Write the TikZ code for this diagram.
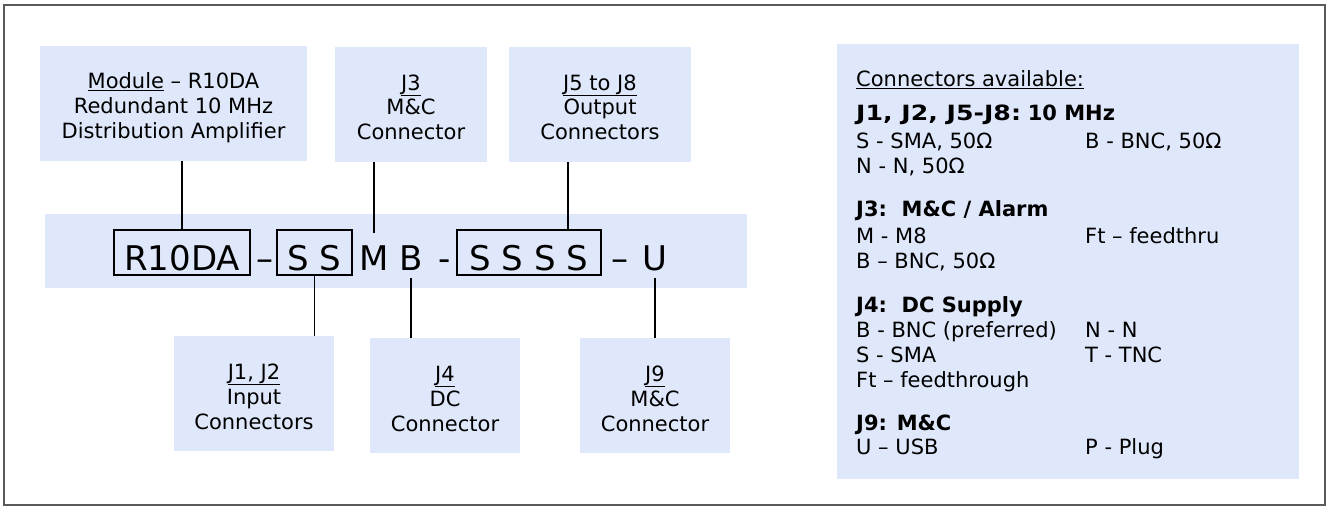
\documentclass[tikz,border=0pt]{standalone}
\usepackage{fontspec}
\setmainfont{DejaVu Sans}
\usepackage{graphicx}
\usepackage{tikz}

\definecolor{paneblue}{HTML}{DFE7FA}
\definecolor{framegray}{HTML}{5A5A5A}

\tikzset{
  pane/.style={fill=paneblue, inner sep=0pt, align=center, text height=71pt, text depth=0pt,
    font=\fontsize{21}{25}\selectfont},
  codebox/.style={draw, line width=1.5pt, inner sep=0pt, minimum height=45pt,
    text height=36pt, text depth=0pt, font=\fontsize{34}{40}\selectfont},
  codechar/.style={anchor=base, inner sep=0pt, text height=37pt, text depth=8pt,
    font=\fontsize{34}{40}\selectfont},
  info/.style={anchor=base west, inner sep=0pt, font=\fontsize{21}{25}\selectfont},
  wire/.style={line width=1.5pt},
}

\begin{document}
\begin{tikzpicture}[x=1pt, y=-1pt]
	\useasboundingbox (0,0) rectangle (1328,508);
	\draw[framegray, line width=1.5pt] (4,5) rectangle (1325,505);
	%top labels
	\node[pane, minimum width=267pt, minimum height=115pt] (mod) at (173.5,103.5)
		{\underline{Module} – R10DA\\Redundant 10 MHz\\Distribution Amplifier};
	\node[pane, minimum width=152pt, minimum height=115pt] (j3) at (411,104.5)
		{\underline{J3}\\M\&C\\Connector};
	\node[pane, minimum width=182pt, minimum height=115pt] (j58) at (600,104.5)
		{\underline{J5 to J8}\\Output\\Connectors};
	%bottom labels
	\node[pane, minimum width=160pt, minimum height=115pt] (j12) at (254,393.5)
		{\underline{J1, J2}\\Input\\Connectors};
	\node[pane, minimum width=150pt, minimum height=115pt] (j4) at (445,395.5)
		{\underline{J4}\\DC\\Connector};
	\node[pane, minimum width=150pt, minimum height=115pt] (j9) at (655,395.5)
		{\underline{J9}\\M\&C\\Connector};
	%part number
	\node[fill=paneblue, inner sep=0pt, minimum width=702pt, minimum height=74pt] (band) at (396,251) {};
	\node[codebox, minimum width=136pt] (r10) at (182,252.5) {R10DA};
	\node[codechar] (dasha) at (265,270) {–};
	\node[codebox, minimum width=75pt] (ss) at (314.5,252.5) {S S};
	\node[codechar] (m) at (374,270) {M};
	\node[codechar] (b) at (411,270) {B};
	\node[codechar] (dashb) at (445,270) {-};
	\node[codebox, minimum width=144pt] (ssss) at (529,252.5) {S S S S};
	\node[codechar] (dashc) at (620,270) {–};
	\node[codechar] (u) at (655,270) {U};
	%connectors
	\draw[wire] (r10.north) -- (r10.north |- mod.south);
	\draw[wire] (m.north) -- (m.north |- j3.south);
	\draw[wire] ([xshift=39pt]ssss.north) -- ([xshift=39pt]ssss.north |- j58.south);
	\draw[wire] (ss.south) -- (ss.south |- j12.north);
	\draw[wire] (b.south) -- (b.south |- j4.north);
	\draw[wire] (u.south) -- (u.south |- j9.north);
	%connector list
	\node[fill=paneblue, inner sep=0pt, minimum width=462pt, minimum height=435pt] (list) at (1068,261.5) {};
	\node[info] (title) at (856,87) {\underline{Connectors available:}};
	\node[info] (hdra) at (856,121) {\scalebox{1.2}[1]{\bfseries J1, J2, J5-J8:} \bfseries 10 MHz};
	\node[info] (sma) at (856,149) {S - SMA, 50Ω};
	\node[info] (bnc) at (1085,149) {B - BNC, 50Ω};
	\node[info] (nn) at (856,174) {N - N, 50Ω};
	\node[info] (hdrb) at (856,216) {\bfseries J3:\ \ M\&C / Alarm};
	\node[info] (meight) at (856,243) {M - M8};
	\node[info] (ftb) at (1085,243) {Ft – feedthru};
	\node[info] (bncb) at (856,268) {B – BNC, 50Ω};
	\node[info] (hdrc) at (856,312) {\bfseries J4:\ \ DC Supply};
	\node[info] (bncc) at (856,337) {B - BNC (preferred)};
	\node[info] (nnc) at (1085,337) {N - N};
	\node[info] (smac) at (856,362) {S - SMA};
	\node[info] (tnc) at (1085,362) {T - TNC};
	\node[info] (ftc) at (856,387) {Ft – feedthrough};
	\node[info] (hdrd) at (856,430) {\bfseries J9: M\&C};
	\node[info] (usb) at (856,454) {U – USB};
	\node[info] (plug) at (1085,454) {P - Plug};
\end{tikzpicture}
\end{document}
